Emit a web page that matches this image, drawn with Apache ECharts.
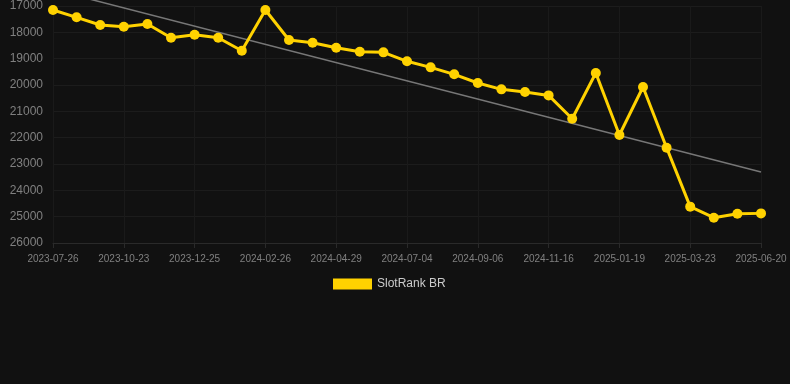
<!DOCTYPE html>
<html><head><meta charset="utf-8">
<script src="https://cdn.jsdelivr.net/npm/echarts@6/dist/echarts.min.js"></script>
<style>html,body{margin:0;padding:0;background:#111111;}#c{width:790px;height:384px;}</style>
</head><body><div id="c"></div>
<script>
const dates = ['2023-07-26','2023-08-25','2023-09-24','2023-10-23','2023-11-13','2023-12-04','2023-12-25','2024-01-15','2024-02-05','2024-02-26','2024-03-18','2024-04-08','2024-04-29','2024-05-21','2024-06-12','2024-07-04','2024-07-25','2024-08-15','2024-09-06','2024-09-29','2024-10-23','2024-11-16','2024-12-08','2024-12-29','2025-01-19','2025-02-09','2025-03-02','2025-03-23','2025-04-21','2025-05-21','2025-06-20'];
const ranks = [17150,17430,17720,17785,17685,18205,18090,18205,18700,17150,18290,18395,18585,18735,18760,19100,19330,19595,19925,20165,20265,20395,21280,19545,21900,20075,22380,24620,25040,24890,24875];
const trendStart = 16380;
const trendEnd = 23305;
const yTicks = {min:17000, max:26000, interval:1000};

const trend = dates.map((d,i)=> i===0 ? trendStart : (i===dates.length-1 ? trendEnd : null));
const chart = echarts.init(document.getElementById('c'), null, {renderer:'canvas'});
chart.setOption({
  backgroundColor:'#111111',
  animation:false,
  grid:{left:53, right:29, top:6, bottom:141, containLabel:false},
  legend:{data:[{name:'SlotRank BR', icon:'rect'}], top:273, left:328, itemWidth:39, itemHeight:11, itemGap:10,
    textStyle:{color:'#cccccc', fontSize:12, fontFamily:'Arial, Liberation Sans, sans-serif'}},
  xAxis:{type:'category', data:dates, boundaryGap:false,
    axisLine:{lineStyle:{color:'#2a2a2a'}},
    axisTick:{show:true, interval:2, lineStyle:{color:'#2a2a2a'}},
    axisLabel:{interval:2, color:'#808080', fontSize:10, fontFamily:'Arial, Liberation Sans, sans-serif', margin:11},
    splitLine:{show:true, interval:2, lineStyle:{color:'#1a1a1a'}}},
  yAxis:{type:'value', inverse:true, min:yTicks.min, max:yTicks.max, interval:yTicks.interval,
    axisLine:{show:false}, axisTick:{show:false},
    axisLabel:{color:'#808080', fontSize:12, fontFamily:'Arial, Liberation Sans, sans-serif', margin:10,
      formatter: v => String(v)},
    splitLine:{lineStyle:{color:'#1c1c1c'}}},
  series:[
    {name:'trend', type:'line', data:trend, connectNulls:true, clip:false, symbol:'none', silent:true,
     lineStyle:{color:'#777777', width:1.5}, z:1},
    {name:'SlotRank BR', type:'line', data:ranks, symbol:'circle', symbolSize:10,
     itemStyle:{color:'#ffd200'}, lineStyle:{color:'#ffd200', width:3}, z:2}
  ]
});
</script></body></html>
